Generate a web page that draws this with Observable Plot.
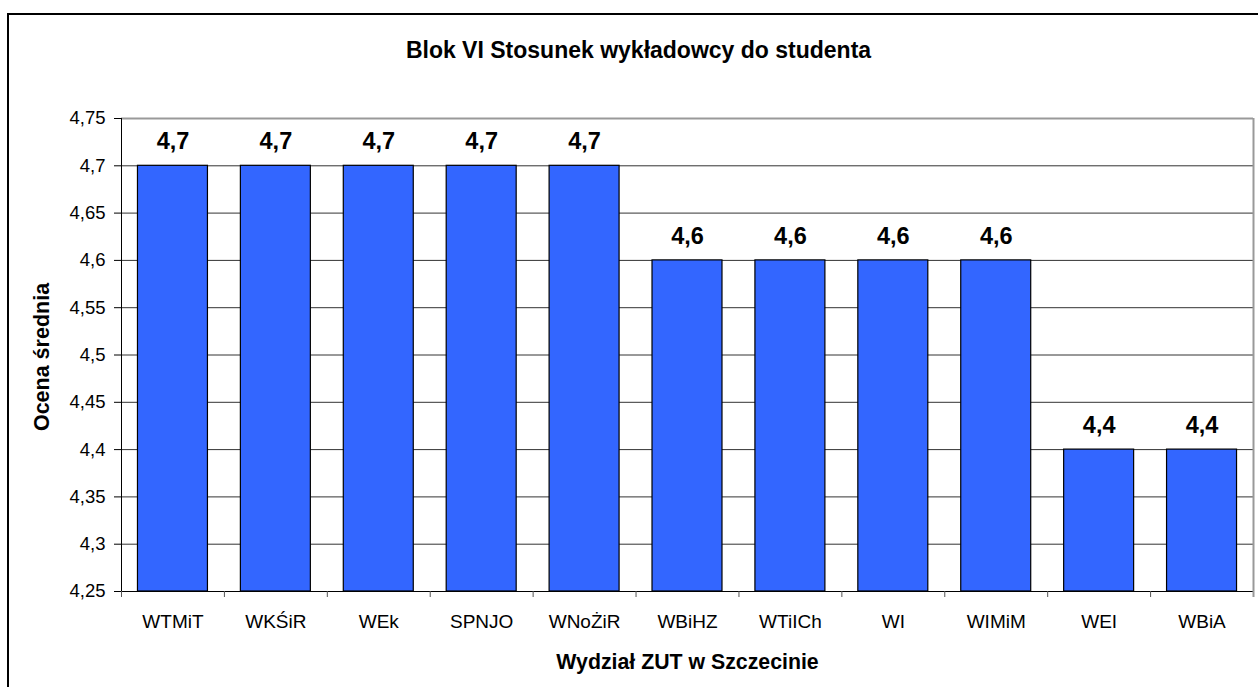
<!DOCTYPE html>
<html>
<head>
<meta charset="utf-8">
<script src="https://cdn.jsdelivr.net/npm/d3@7"></script>
<script src="https://cdn.jsdelivr.net/npm/@observablehq/plot@0.6"></script>
<style>
  html, body { margin: 0; padding: 0; background: #fff; }
  #wrap { position: relative; width: 1258px; height: 687px; overflow: hidden; }
  #border { position: absolute; left: 7px; top: 13px; width: 1300px; height: 720px; border: 2px solid #000; box-sizing: border-box; pointer-events: none; }
  svg { font-family: "Liberation Sans", Arial, sans-serif; }
</style>
</head>
<body>
<div id="wrap"><div id="border"></div></div>
<script>
const title = "Blok VI Stosunek wykładowcy do studenta";
const xTitle = "Wydział ZUT w Szczecinie";
const yTitle = "Ocena średnia";
const categories = ["WTMiT", "WKŚiR", "WEk", "SPNJO", "WNoŻiR", "WBiHZ", "WTiICh", "WI", "WIMiM", "WEI", "WBiA"];
const values = [4.7, 4.7, 4.7, 4.7, 4.7, 4.6, 4.6, 4.6, 4.6, 4.4, 4.4];
const yTicks = [4.25, 4.3, 4.35, 4.4, 4.45, 4.5, 4.55, 4.6, 4.65, 4.7, 4.75];
const yMin = 4.25, yMax = 4.75;

const data = categories.map((c, i) => ({cat: c, value: values[i]}));
const fmt = d => String(+d.toFixed(2)).replace(".", ",");

const W = 1258, H = 687;
const mL = 121, mR = 5, mT = 118, mB = 96;
const bw = (W - mL - mR) / categories.length;
const FONT = "Liberation Sans, Arial, sans-serif";
const last = categories[categories.length - 1];

const chart = Plot.plot({
  width: W,
  height: H,
  marginLeft: mL,
  marginRight: mR,
  marginTop: mT,
  marginBottom: mB,
  style: {fontFamily: FONT, background: "transparent", overflow: "visible"},
  x: {domain: categories, paddingInner: 0.32, paddingOuter: 0.16, align: 0.5, round: false, axis: null, label: null},
  y: {domain: [yMin, yMax], axis: null, label: null},
  marks: [
    // gridlines
    Plot.ruleY(yTicks.filter(t => t > yMin && t < yMax), {stroke: "#333", strokeWidth: 1}),
    // frame top & right (gray)
    Plot.ruleY([yMax], {stroke: "#999", strokeWidth: 2}),
    Plot.ruleX([last], {dx: bw / 2, y1: yMin, y2: yMax, stroke: "#999", strokeWidth: 2}),
    // bars
    Plot.barY(data, {x: "cat", y1: yMin, y2: "value", fill: "#3366FF", stroke: "#000", strokeWidth: 1.2}),
    // value labels
    Plot.text(data, {x: "cat", y: "value", text: d => fmt(d.value), dy: -24, lineAnchor: "middle", fontSize: 23.5, fontWeight: "bold", fill: "#000"}),
    // y axis
    Plot.axisY({ticks: yTicks, tickFormat: fmt, tickSize: 7, tickPadding: 9, fontSize: 18.5, color: "#000", stroke: "#000", label: null}),
    Plot.ruleX([categories[0]], {dx: -bw / 2, y1: yMin, y2: yMax, stroke: "#000", strokeWidth: 1}),
    // x axis baseline
    Plot.ruleY([yMin], {stroke: "#000", strokeWidth: 1}),
    // x tick marks at band boundaries
    Plot.axisX({ticks: categories, tickSize: 6, text: null, dx: -bw / 2, stroke: "#555", label: null}),
    Plot.axisX({ticks: [last], tickSize: 6, text: null, dx: bw / 2, stroke: "#999", strokeWidth: 2, label: null}),
    // x tick labels
    Plot.text(categories, {x: d => d, frameAnchor: "bottom", lineAnchor: "middle", dy: 30, fontSize: 19, fill: "#000"}),
    // axis titles
    Plot.text([xTitle], {frameAnchor: "bottom", lineAnchor: "middle", dy: 71, fontSize: 21.3, fontWeight: "bold", fill: "#000"}),
    Plot.text([yTitle], {frameAnchor: "left", textAnchor: "middle", lineAnchor: "middle", dx: -79, dy: 2, rotate: -90, fontSize: 21.5, fontWeight: "bold", fill: "#000"}),
    // chart title
    Plot.text([title], {frameAnchor: "top", textAnchor: "middle", lineAnchor: "middle", dx: -49, dy: -68, fontSize: 23, fontWeight: "bold", fill: "#000"})
  ]
});
document.getElementById("wrap").insertBefore(chart, document.getElementById("border"));
</script>
</body>
</html>
